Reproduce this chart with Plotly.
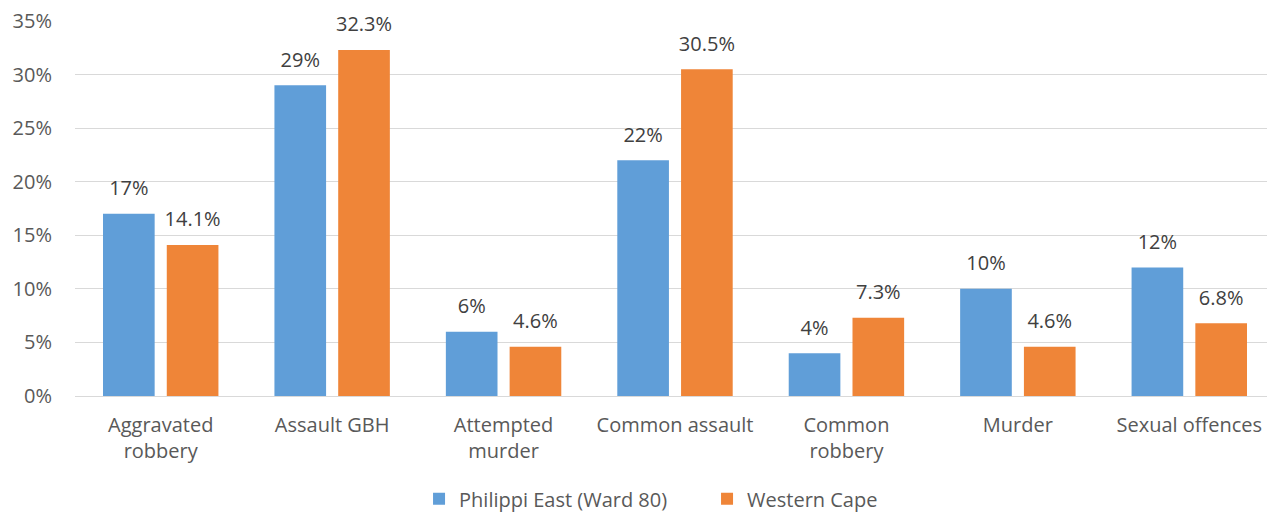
import plotly.graph_objects as go

categories = ["Aggravated<br>robbery", "Assault GBH", "Attempted<br>murder", "Common assault",
              "Common<br>robbery", "Murder", "Sexual offences"]
philippi = [17, 29, 6, 22, 4, 10, 12]
western_cape = [14.1, 32.3, 4.6, 30.5, 7.3, 4.6, 6.8]
series_names = ["Philippi East (Ward 80)", "Western Cape"]
y_ticks = [0, 5, 10, 15, 20, 25, 30, 35]

FONT = "Open Sans"
FS = 20
colors = ["#609ED8", "#EF8538"]
fig = go.Figure()
for i, (name, vals) in enumerate(zip(series_names, [philippi, western_cape])):
    fig.add_trace(go.Bar(
        x=categories, y=vals, name=name, offsetgroup=str(i),
        marker=dict(color=colors[i], line=dict(width=0)),
    ))
for i, (name, vals) in enumerate(zip(series_names, [philippi, western_cape])):
    fig.add_trace(go.Scatter(
        x=categories, y=vals, offsetgroup=str(i), mode="markers+text",
        text=[f"{v:g}%" for v in vals], textposition="top center",
        marker=dict(size=20, opacity=0), showlegend=False, hoverinfo="skip",
        textfont=dict(family=FONT, size=FS, color="#404040"), cliponaxis=False,
    ))

fig.update_layout(
    width=1267, height=506,
    margin=dict(l=67, r=0, t=13, b=118),
    paper_bgcolor="white", plot_bgcolor="white",
    barmode="group", bargap=0.256, bargroupgap=0.19, scattermode="group",
    font=dict(family=FONT, size=FS, color="#595959"),
    showlegend=True,
    legend=dict(orientation="h", x=0.2867, xanchor="left",
                yref="container", y=0.03, yanchor="middle",
                font=dict(family=FONT, size=FS, color="#595959"),
                itemwidth=30, tracegroupgap=0, entrywidth=243, entrywidthmode="pixels"),
)
fig.update_yaxes(range=[0, 35], tickvals=y_ticks, ticktext=[f"{t}%" for t in y_ticks],
                 showgrid=True, gridcolor="#D9D9D9", gridwidth=1,
                 zeroline=True, zerolinecolor="#D9D9D9", zerolinewidth=1,
                 showline=False, ticks="", ticklabelstandoff=22, automargin=False,
                 ticklabeloverflow="allow",
                 tickfont=dict(family=FONT, size=FS, color="#595959"))
fig.update_xaxes(showline=False, ticks="", showgrid=False, ticklabelstandoff=15, automargin=False,
                 ticklabeloverflow="allow",
                 tickfont=dict(family=FONT, size=FS, color="#595959"))

fig.write_html("out.html")
